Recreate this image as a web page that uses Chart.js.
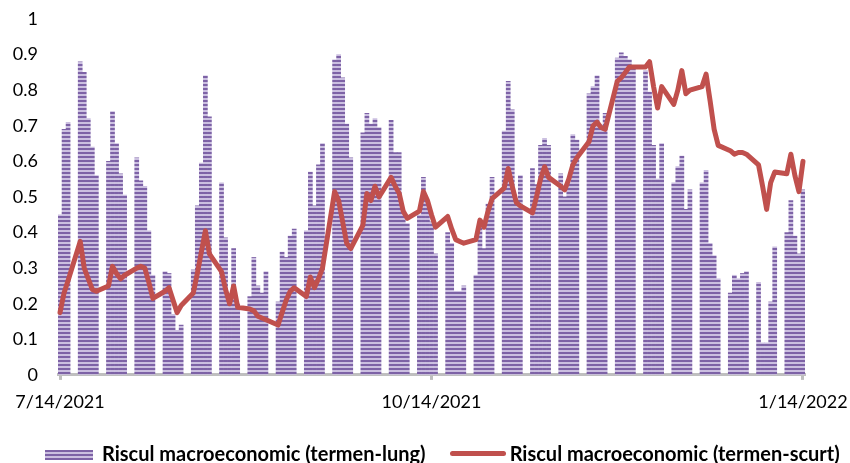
<!DOCTYPE html>
<html>
<head>
<meta charset="utf-8">
<script src="https://cdn.jsdelivr.net/npm/chart.js@4.4.0/dist/chart.umd.min.js"></script>
<style>
  body { margin: 0; background: #fff; }
  #wrap { position: relative; width: 850px; height: 463px; }
  #legend {
    position: absolute; left: 45px; top: 442px; height: 22px;
    display: flex; align-items: flex-start;
    font: bold 20px Lato, sans-serif; line-height: 22px; color: #000;
  }
  .item { display: flex; align-items: flex-start; margin-right: 24px; white-space: nowrap; }
  .swatch.bar {
    width: 48px; height: 10px; margin-top: 8px; margin-right: 9px;
    background: repeating-linear-gradient(to bottom, #7d62a6 0 2px, #cbbfe0 2px 4px);
  }
  .swatch.line { width: 56px; height: 5px; margin-top: 9px; margin-right: 4px; border-radius: 3px; background: #C0504D; }
</style>
</head>
<body>
<div id="wrap">
  <canvas id="risk" width="850" height="463"></canvas>
  <div id="legend"></div>
</div>
<script>
  // calendar days on the axis, weekends are empty
  var dayLabels = [];
  for (var i = 0; i < 185; i++) {
    var d = new Date(2021, 6, 14 + i);
    dayLabels.push((d.getMonth() + 1) + '/' + d.getDate() + '/' + d.getFullYear());
  }
  var tickLabels = ['7/14/2021', '10/14/2021', '1/14/2022'];

  var _ = null;
  // one row per week: Mon..Fri then Sat, Sun
  var longTerm = [
    0.45, 0.69, 0.71, _, _,
    0.88, 0.85, 0.72, 0.64, 0.56, _, _,
    0.60, 0.74, 0.65, 0.565, 0.505, _, _,
    0.61, 0.545, 0.53, 0.405, 0.28, _, _,
    0.29, 0.285, 0.17, 0.125, 0.14, _, _,
    0.295, 0.475, 0.595, 0.84, 0.725, _, _,
    0.54, 0.385, 0.21, 0.355, 0.20, _, _,
    0.22, 0.33, 0.25, 0.23, 0.29, _, _,
    0.205, 0.345, 0.33, 0.39, 0.41, _, _,
    0.405, 0.57, 0.475, 0.59, 0.65, _, _,
    0.885, 0.90, 0.835, 0.705, 0.61, _, _,
    0.68, 0.735, 0.705, 0.72, 0.695, _, _,
    0.715, 0.625, 0.625, 0.46, 0.425, _, _,
    0.45, 0.555, 0.49, 0.43, 0.34, _, _,
    0.40, 0.37, 0.235, 0.235, 0.25, _, _,
    0.28, 0.42, 0.355, 0.48, 0.555, _, _,
    0.685, 0.825, 0.745, 0.48, 0.56, _, _,
    0.58, 0.535, 0.645, 0.665, 0.645, _, _,
    0.565, 0.50, 0.54, 0.675, 0.66, _, _,
    0.79, 0.81, 0.84, 0.70, 0.735, _, _,
    0.89, 0.905, 0.895, 0.885, 0.87, _, _,
    0.855, 0.795, 0.645, 0.55, 0.65, _, _,
    0.54, 0.585, 0.615, 0.465, 0.52, _, _,
    0.54, 0.575, 0.37, 0.335, 0.27, _, _,
    0.23, 0.28, 0.27, 0.285, 0.29, _, _,
    0.26, 0.09, 0.09, 0.205, 0.36, _, _,
    0.40, 0.49, 0.39, 0.34, 0.52
  ];
  var shortTerm = [
    0.175, 0.23, 0.265, _, _,
    0.375, 0.30, 0.27, 0.24, 0.235, _, _,
    0.25, 0.305, 0.285, 0.27, 0.28, _, _,
    0.30, 0.305, 0.30, 0.26, 0.215, _, _,
    0.235, 0.245, 0.21, 0.175, 0.195, _, _,
    0.23, 0.285, 0.345, 0.405, 0.34, _, _,
    0.29, 0.24, 0.20, 0.25, 0.19, _, _,
    0.185, 0.18, 0.165, 0.16, 0.155, _, _,
    0.14, 0.175, 0.21, 0.235, 0.245, _, _,
    0.22, 0.275, 0.245, 0.27, 0.30, _, _,
    0.515, 0.49, 0.43, 0.37, 0.355, _, _,
    0.42, 0.51, 0.49, 0.53, 0.50, _, _,
    0.555, 0.53, 0.51, 0.46, 0.44, _, _,
    0.46, 0.515, 0.49, 0.45, 0.415, _, _,
    0.445, 0.41, 0.38, 0.375, 0.37, _, _,
    0.38, 0.435, 0.415, 0.46, 0.495, _, _,
    0.525, 0.58, 0.53, 0.485, 0.475, _, _,
    0.455, 0.50, 0.55, 0.585, 0.555, _, _,
    0.53, 0.52, 0.55, 0.59, 0.61, _, _,
    0.655, 0.70, 0.71, 0.695, 0.69, _, _,
    0.825, 0.835, 0.85, 0.865, 0.865, _, _,
    0.865, 0.88, 0.81, 0.75, 0.81, _, _,
    0.76, 0.80, 0.855, 0.79, 0.80, _, _,
    0.81, 0.845, 0.77, 0.69, 0.645, _, _,
    0.63, 0.62, 0.625, 0.625, 0.62, _, _,
    0.59, 0.53, 0.465, 0.54, 0.57, _, _,
    0.565, 0.62, 0.56, 0.515, 0.60
  ];

  // horizontal stripe fill like the excel pattern
  function stripes() {
    var c = document.createElement('canvas');
    c.width = 4; c.height = 4;
    var g = c.getContext('2d');
    g.fillStyle = '#cbbfe0';
    g.fillRect(0, 0, 4, 4);
    g.fillStyle = '#7d62a6';
    g.fillRect(0, 0, 4, 2);
    return g.createPattern(c, 'repeat');
  }

  var ctx = document.getElementById('risk').getContext('2d');

  var chart = new Chart(ctx, {
    data: {
      labels: dayLabels,
      datasets: [
        {
          type: 'bar',
          label: 'Riscul macroeconomic (termen-lung)',
          data: longTerm,
          backgroundColor: stripes(),
          barPercentage: 1,
          categoryPercentage: 1,
          order: 2
        },
        {
          type: 'line',
          label: 'Riscul macroeconomic (termen-scurt)',
          data: shortTerm,
          borderColor: '#C0504D',
          borderWidth: 5,
          borderJoinStyle: 'round',
          borderCapStyle: 'round',
          pointRadius: 0,
          tension: 0,
          spanGaps: true,
          order: 1
        }
      ]
    },
    options: {
      responsive: false,
      animation: false,
      layout: { padding: { left: 13, right: 45, top: 19, bottom: 39 } },
      plugins: {
        legend: { display: false },
        tooltip: { enabled: false }
      },
      scales: {
        x: {
          offset: true,
          grid: { drawOnChartArea: false, offset: false, tickLength: 5, tickWidth: 3, tickColor: '#bfbfbf' },
          border: { color: '#bfbfbf', width: 3 },
          afterBuildTicks: function(axis) {
            axis.ticks = axis.ticks.filter(function(t) { return tickLabels.indexOf(dayLabels[t.value]) >= 0; });
          },
          ticks: {
            autoSkip: false, maxRotation: 0, padding: 0, color: '#000',
            font: { family: 'Lato', size: 18, lineHeight: 2.45 }
          }
        },
        y: {
          min: 0,
          max: 1,
          grid: { drawOnChartArea: false, drawTicks: true, tickLength: 20, tickColor: 'rgba(0,0,0,0)' },
          border: { display: false },
          afterFit: function(axis) { axis.width = 45; },
          ticks: {
            stepSize: 0.1,
            padding: 0,
            color: '#000',
            font: { family: 'Lato', size: 18 },
            callback: function(v) { return String(Math.round(v * 10) / 10); }
          }
        }
      }
    }
  });

  var legend = document.getElementById('legend');
  chart.data.datasets.forEach(function(ds) {
    var item = document.createElement('div');
    item.className = 'item';
    var sw = document.createElement('span');
    sw.className = 'swatch ' + ds.type;
    var txt = document.createElement('span');
    txt.textContent = ds.label;
    item.appendChild(sw);
    item.appendChild(txt);
    legend.appendChild(item);
  });
</script>
</body>
</html>
